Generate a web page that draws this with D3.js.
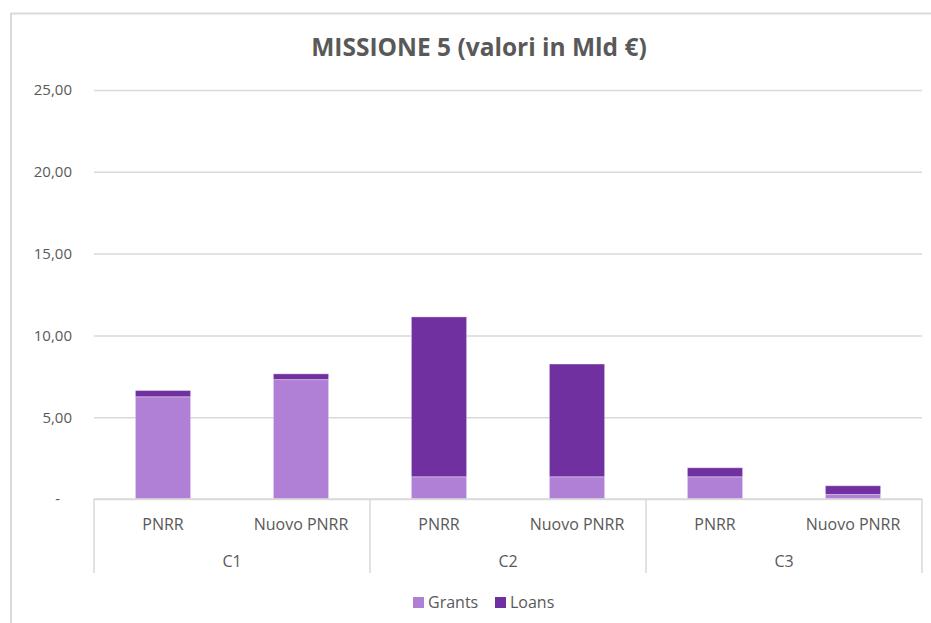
<!DOCTYPE html>
<html>
<head>
<meta charset="utf-8">
<script src="https://cdn.jsdelivr.net/npm/d3@7"></script>
<style>
  body { margin: 0; background: #fff; }
  svg text { font-family: "Open Sans", "Liberation Sans", sans-serif; fill: #595959; }
</style>
</head>
<body>
<svg id="chart" width="931" height="623"></svg>
<script>
'use strict';

// chart data
var groups = ["C1", "C2", "C3"];
var versions = ["PNRR", "Nuovo PNRR"];
var grants = [6.25, 7.30, 1.36, 1.36, 1.36, 0.28];
var loans = [0.38, 0.35, 9.77, 6.89, 0.55, 0.53];
var yTicks = [0, 5, 10, 15, 20, 25];
var seriesNames = ["Grants", "Loans"];
var colors = ["#b07fd6", "#7030a0"];

var rows = [];
for (var i = 0; i < groups.length; i++) {
    for (var j = 0; j < versions.length; j++) {
        var k = i * versions.length + j;
        rows.push({ group: groups[i], version: versions[j], Grants: grants[k], Loans: loans[k] });
    }
}

function drawChart() {
    var svg = d3.select("#chart");

    // chart frame (left and top edge visible)
    svg.append("line").attr("x1", 11).attr("x2", 931).attr("y1", 13.5).attr("y2", 13.5)
        .attr("stroke", "#d9d9d9").attr("stroke-width", 2);
    svg.append("line").attr("x1", 11).attr("x2", 11).attr("y1", 13).attr("y2", 623)
        .attr("stroke", "#d9d9d9").attr("stroke-width", 2);

    svg.append("text")
        .attr("x", 479).attr("y", 56)
        .attr("text-anchor", "middle")
        .style("font-size", "24.5px").style("font-weight", "bold")
        .text("MISSIONE 5 (valori in Mld €)");

    var pLeft = 94, pRight = 922, pBottom = 499, pTop = 90;

    var x0 = d3.scaleBand().domain(groups).range([pLeft, pRight]).padding(0);
    var x1 = d3.scaleBand().domain(versions).range([0, x0.bandwidth()])
        .paddingInner(0.6).paddingOuter(0.3);
    var y = d3.scaleLinear().domain([0, 25]).range([pBottom, pTop]);

    var fmt = function (d) { return d === 0 ? "-" : d3.format(".2f")(d).replace(".", ","); };

    // gridlines + labels
    var yAxis = svg.append("g")
        .attr("transform", "translate(" + pLeft + ",0)")
        .call(d3.axisLeft(y).tickValues(yTicks).tickSize(-(pRight - pLeft)).tickPadding(22).tickFormat(fmt));
    yAxis.select(".domain").remove();
    yAxis.selectAll(".tick line").attr("stroke", "#d9d9d9").attr("stroke-width", 1.5);
    yAxis.selectAll(".tick text").style("font-size", "15px").attr("fill", "#595959")
        .attr("dx", function (d) { return d === 0 ? -12 : 0; });

    var stack = d3.stack().keys(seriesNames);
    var layers = stack(rows);

    svg.append("g").selectAll("g")
        .data(layers)
        .enter().append("g")
        .attr("fill", function (d, i) { return colors[i]; })
        .selectAll("rect")
        .data(function (d) { return d; })
        .enter().append("rect")
        .attr("x", function (d) { return x0(d.data.group) + x1(d.data.version); })
        .attr("y", function (d) { return y(d[1]); })
        .attr("width", x1.bandwidth())
        .attr("height", function (d) { return y(d[0]) - y(d[1]); })
        .attr("stroke", "rgba(255,255,255,0.35)")
        .attr("stroke-width", 1);

    // category axis
    var axisColor = "#d9d9d9";
    svg.append("line").attr("x1", pLeft).attr("x2", pRight).attr("y1", pBottom).attr("y2", pBottom)
        .attr("stroke", axisColor).attr("stroke-width", 1.5);
    var seps = groups.map(function (g) { return x0(g); }).concat([pRight]);
    svg.append("g").selectAll("line")
        .data(seps)
        .enter().append("line")
        .attr("x1", function (d) { return d; }).attr("x2", function (d) { return d; })
        .attr("y1", pBottom).attr("y2", 573)
        .attr("stroke", axisColor).attr("stroke-width", 1.5);

    svg.append("g").selectAll("text")
        .data(rows)
        .enter().append("text")
        .attr("x", function (d) { return x0(d.group) + x1(d.version) + x1.bandwidth() / 2; })
        .attr("y", 530)
        .attr("text-anchor", "middle")
        .style("font-size", "16px")
        .text(function (d) { return d.version; });

    svg.append("g").selectAll("text")
        .data(groups)
        .enter().append("text")
        .attr("x", function (d) { return x0(d) + x0.bandwidth() / 2; })
        .attr("y", 567)
        .attr("text-anchor", "middle")
        .style("font-size", "16px")
        .text(function (d) { return d; });

    // legend
    var legend = svg.append("g");
    var lx = [413, 495];
    seriesNames.forEach(function (name, i) {
        legend.append("rect").attr("x", lx[i]).attr("y", 597).attr("width", 11).attr("height", 11)
            .attr("fill", colors[i]);
        legend.append("text").attr("x", lx[i] + 15).attr("y", 608)
            .style("font-size", "16px").text(name);
    });
}

drawChart();
</script>
</body>
</html>
